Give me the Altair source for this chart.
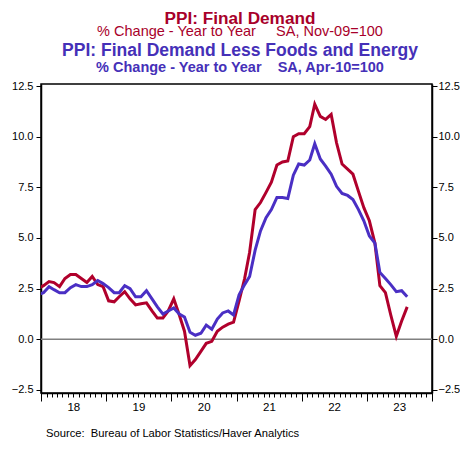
import altair as alt
import pandas as pd

RED = "#B0002C"
BLUE = "#4A2FC4"
RED_T = "#A8002A"
BLUE_T = "#4530B8"
FONT = "Liberation Sans"

# Monthly series, Dec 2017 .. Aug 2023 (% change, year to year)
final_demand = [
    2.5,
    2.65, 2.85, 2.8, 2.6, 3.0, 3.2, 3.2, 3.0, 2.8, 3.1, 2.7, 2.6,
    1.9, 1.85, 2.1, 2.35, 2.0, 1.7, 1.75, 1.8, 1.4, 1.05, 1.05, 1.4,
    2.0, 1.2, 0.4, -1.3, -1.0, -0.6, -0.2, -0.1, 0.4, 0.6, 0.75, 0.85,
    1.9, 3.0, 4.3, 6.4, 6.75, 7.25, 7.75, 8.6, 8.75, 8.8, 10.0, 10.15,
    10.15, 10.5, 11.6, 11.0, 10.85, 11.1, 9.7, 8.65, 8.4, 8.15, 7.3, 6.5,
    5.85, 4.75, 2.65, 2.3, 1.2, 0.15, 0.9, 1.6,
]
core = [
    2.2,
    2.3, 2.6, 2.45, 2.3, 2.3, 2.55, 2.7, 2.6, 2.6, 2.7, 2.9, 2.75,
    2.55, 2.3, 2.3, 2.65, 2.5, 2.1, 2.1, 2.4, 2.0, 1.6, 1.25, 1.4,
    1.55, 1.25, 1.1, 0.35, 0.2, 0.3, 0.7, 0.5, 1.0, 1.3, 1.4, 1.2,
    2.2, 2.7, 3.1, 4.4, 5.35, 6.0, 6.4, 7.0, 7.0, 6.95, 8.1, 8.65,
    8.6, 8.85, 9.65, 8.9, 8.55, 8.15, 7.55, 7.2, 7.1, 6.9, 6.4, 5.85,
    5.1, 4.75, 3.3, 3.0, 2.7, 2.35, 2.4, 2.1,
]
y_ticks = [-2.5, 0.0, 2.5, 5.0, 7.5, 10.0, 12.5]
title_lines = [
    "PPI: Final Demand",
    "% Change - Year to Year\u00a0\u00a0\u00a0\u00a0\u00a0SA, Nov-09=100",
    "PPI: Final Demand Less Foods and Energy",
    "% Change - Year to Year\u00a0\u00a0\u00a0\u00a0SA, Apr-10=100",
]
source_text = "Source:\u00a0\u00a0Bureau of Labor Statistics/Haver Analytics"

dates = []
yy, mm = 2017, 12
for _ in range(len(final_demand)):
    dates.append(f"{yy}/{mm:02d}/15")
    mm += 1
    if mm > 12:
        mm = 1
        yy += 1

df = pd.DataFrame({"date": dates, "fd": final_demand, "core": core})

month_ticks = [alt.DateTime(year=y, month=m, date=1) for y in range(2018, 2024) for m in range(1, 13)]
month_ticks.append(alt.DateTime(year=2024, month=1, date=1))

xscale = alt.Scale(domain=[alt.DateTime(year=2018, month=1, date=1),
                           alt.DateTime(year=2024, month=1, date=1)])
yscale = alt.Scale(domain=[-2.65, 12.6], nice=False, zero=False)

xaxis = alt.Axis(
    values=month_ticks,
    tickSize={"condition": {"test": "month(datum.value) == 0", "value": 8}, "value": 4},
    labelExpr="month(datum.value) == 6 ? timeFormat(datum.value, '%y') : ''",
    labelOverlap=False, labelFlush=False, labelPadding=4,
    labelFontSize=11.5, grid=False, title=None,
)
yleft = alt.Axis(values=y_ticks, format=".1f", orient="left", tickSize=5,
                 labelPadding=3, labelFontSize=11, grid=False, title=None)
yright = alt.Axis(values=y_ticks, format=".1f", orient="right", tickSize=5,
                  labelPadding=1, labelFontSize=11, grid=False, title=None)

red = alt.Chart(df).mark_line(color=RED, strokeWidth=3, clip=True).encode(
    x=alt.X("date:T", scale=xscale, axis=xaxis),
    y=alt.Y("fd:Q", scale=yscale, axis=yleft),
)
blue = alt.Chart(df).mark_line(color=BLUE, strokeWidth=3, clip=True).encode(
    x=alt.X("date:T", scale=xscale, axis=xaxis),
    y=alt.Y("core:Q", scale=yscale, axis=yright),
)
zero = alt.Chart(pd.DataFrame({"v": [0.0]})).mark_rule(color="#808080", strokeWidth=1.5).encode(
    y=alt.Y("v:Q", scale=yscale, axis=None)
)


def text_layer(txt, size, weight, color, x, y, align="center"):
    return alt.Chart(pd.DataFrame({"t": [txt]})).mark_text(
        font=FONT, fontSize=size, fontWeight=weight, color=color,
        align=align, baseline="alphabetic",
    ).encode(text="t:N", x=alt.value(x), y=alt.value(y))


CX = 199
t1 = text_layer(title_lines[0], 17.2, "bold", RED_T, CX, -60.5)
t2 = text_layer(title_lines[1], 14.5, "normal", RED_T, CX, -48.0)
t3 = text_layer(title_lines[2], 17.5, "bold", BLUE_T, CX, -28.5)
t4 = text_layer(title_lines[3], 14.5, "bold", BLUE_T, CX, -12.0)
src = text_layer(source_text, 11.2, "normal", "black", 5, 353, align="left")

chart = alt.layer(zero, red, blue, t1, t2, t3, t4, src).resolve_axis(
    y="independent"
).properties(
    width=391, height=309,
    padding={"left": 33, "top": 76, "right": 28, "bottom": 47},
    autosize=alt.AutoSizeParams(type="none"),
).configure_view(
    stroke="black", strokeWidth=1.5
).configure_axis(
    labelFont=FONT, labelColor="black",
    domainColor="black", domainWidth=1.5, tickColor="black", tickWidth=1,
)

chart.save("out.html", embed_options={"renderer": "svg", "actions": False})
